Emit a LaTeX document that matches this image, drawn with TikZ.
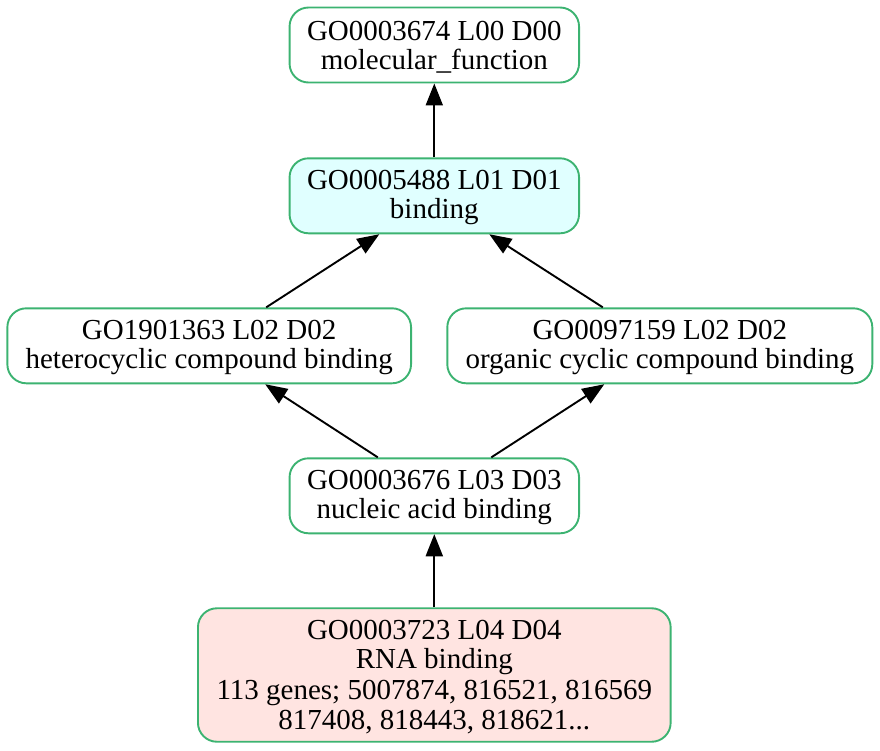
\documentclass[tikz,border=0pt]{standalone}
\usepackage{fontspec}
\setmainfont{Liberation Serif}
\usetikzlibrary{arrows.meta}
\definecolor{gvgreen}{RGB}{60,179,113}
\definecolor{gvcyan}{RGB}{224,255,255}
\definecolor{gvpink}{RGB}{255,228,225}
\newcommand\gvstrut{\rule[-3.5pt]{0pt}{27pt}}
\tikzset{
  gonode/.style={draw=gvgreen, line width=1.9pt, rounded corners=19pt, inner sep=0pt,
    minimum height=75pt, align=center, font=\fontsize{29}{29}\selectfont, text=black},
  edge/.style={line width=1.9pt, -{Triangle[length=22pt,width=17pt]}}
}
\begin{document}
\begin{tikzpicture}[x=1pt,y=-1pt]
\useasboundingbox (0,0) rectangle (880,750);
\node[gonode, fill=white, minimum width=289.5pt] (n1) at (434.3,45) {\gvstrut GO0003674 L00 D00\\\gvstrut molecular\_function};
\node[gonode, fill=gvcyan, minimum width=289.5pt] (n2) at (434.3,195.8) {\gvstrut GO0005488 L01 D01\\\gvstrut binding};
\node[gonode, fill=white, minimum width=403.7pt] (n3) at (209.2,345.8) {\gvstrut GO1901363 L02 D02\\\gvstrut heterocyclic compound binding};
\node[gonode, fill=white, minimum width=425pt] (n4) at (659.8,345.8) {\gvstrut GO0097159 L02 D02\\\gvstrut organic cyclic compound binding};
\node[gonode, fill=white, minimum width=289.5pt] (n5) at (434.3,495.8) {\gvstrut GO0003676 L03 D03\\\gvstrut nucleic acid binding};
\node[gonode, fill=gvpink, minimum width=472.7pt, minimum height=133.5pt] (n6) at (434.3,675) {\gvstrut GO0003723 L04 D04\\\gvstrut RNA binding\\\gvstrut 113 genes; 5007874, 816521, 816569\\\gvstrut 817408, 818443, 818621...};
\draw[edge] (n2.north) -- (n1.south);
\draw[edge] ([xshift=57pt]n3.north) -- ([xshift=-55pt]n2.south);
\draw[edge] ([xshift=-57pt]n4.north) -- ([xshift=55pt]n2.south);
\draw[edge] ([xshift=-56.5pt]n5.north) -- ([xshift=56pt]n3.south);
\draw[edge] ([xshift=57pt]n5.north) -- ([xshift=-55.5pt]n4.south);
\draw[edge] (n6.north) -- (n5.south);
\end{tikzpicture}
\end{document}
